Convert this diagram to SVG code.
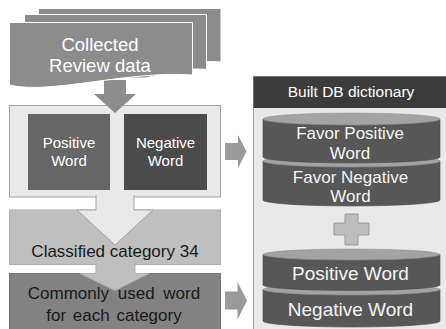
<svg xmlns="http://www.w3.org/2000/svg" width="446" height="329" viewBox="0 0 446 329">
<style>
text{font-family:"Liberation Sans",Arial,sans-serif;text-anchor:middle}
.doc{fill:#8c8c8c;stroke:#ffffff;stroke-width:1}
.wt{fill:#ffffff}
.dk{fill:#1a1a1a}
.cylb{fill:#575757;stroke:#4a4a4a;stroke-width:0.6}
.cylt{fill:#a3a3a3;stroke:#8e8e8e;stroke-width:0.6}
.ct{fill:#f4f4f4;font-size:17px}
.ct2{fill:#f4f4f4;font-size:19px}
.garrow{fill:#9a9a9a}
</style>
<rect width="446" height="329" fill="#ffffff"/>

<g id="panel-light">
<rect x="9.5" y="105.5" width="211" height="91.5" fill="#e9e9e9" stroke="#a3a3a3"/>
</g>

<g id="connectors">
<path d="M104,80 V94 H94 L115,113 L136,94 H126 V80 Z" fill="#8c8c8c"/>
</g>

<g id="review-data">
<path class="doc" d="M38.5,8.5 H221 V62 C200,60 180,66 160,70 L38.5,70 Z"/>
<path class="doc" d="M24.5,14.5 H206.5 V69.5 C185,67 165,74 145,78 L24.5,78 Z"/>
<path class="doc" d="M9.5,22.5 H192.5 V75 C130,70 50,95 9.5,85 Z"/>
<text class="wt" x="100" y="51" font-size="18.5">Collected</text>
<text class="wt" x="100" y="72" font-size="18.5">Review data</text>
</g>

<g id="positive-word">
<rect x="28" y="114" width="82" height="76" fill="#666666"/>
<text class="wt" x="69" y="148" font-size="15">Positive</text>
<text class="wt" x="69" y="166" font-size="15">Word</text>
</g>
<g id="negative-word">
<rect x="124" y="114" width="83" height="76" fill="#4b4b4b"/>
<text class="wt" x="165.5" y="148" font-size="15">Negative</text>
<text class="wt" x="165.5" y="166" font-size="15">Word</text>
</g>

<g id="classified">
<rect x="9.5" y="210" width="211" height="54.5" fill="#bfbfbf" stroke="#adadad"/>
</g>
<g id="commonly">
<rect x="9.5" y="273.5" width="211" height="60" fill="#828282" stroke="#777777"/>
</g>

<g id="connectors2">
<path d="M96,195 V210 H77 L115,245 L153,210 H134 V195" fill="#e9e9e9" stroke="#a3a3a3"/>
<path d="M96,263 V273.5 H80 L115,290.5 L149,273.5 H135 V263" fill="#bfbfbf" stroke="#adadad"/>
<path class="garrow" d="M225,143 H238 V135 L246.5,151.5 L238,168 V160 H225 Z"/>
<path class="garrow" d="M225,291.5 H237.5 V282 L247,300.5 L237.5,319.5 V309.5 H225 Z"/>
</g>

<g id="classified-label">
<text class="dk" x="115" y="257" font-size="17">Classified category 34</text>
</g>
<g id="commonly-label">
<text class="dk" x="114" y="299" font-size="17" word-spacing="4">Commonly used word</text>
<text class="dk" x="114" y="321" font-size="17" word-spacing="2">for each category</text>
</g>

<g id="db-dictionary">
<rect x="253.5" y="76.5" width="200" height="260" fill="#e9e9e9" stroke="#a3a3a3"/>
<rect x="253.5" y="76.5" width="200" height="31.5" fill="#3b3b3b"/>
<text class="wt" x="351" y="97" font-size="15.5">Built DB dictionary</text>
</g>

<g id="favor-negative">
<path class="cylb" d="M263,161 V200 A88.5,6 0 0 0 440,200 V161 Z"/>
<ellipse class="cylt" cx="351.5" cy="161" rx="88.5" ry="6"/>
<text class="ct" x="350.5" y="182.5">Favor Negative</text>
<text class="ct" x="350.5" y="202">Word</text>
</g>
<g id="favor-positive">
<path class="cylb" d="M263,119 V157 A88.5,6 0 0 0 440,157 V119 Z"/>
<ellipse class="cylt" cx="351.5" cy="119" rx="88.5" ry="6"/>
<text class="ct" x="350" y="139">Favor Positive</text>
<text class="ct" x="350" y="158.5">Word</text>
</g>

<g id="plus">
<path d="M345,214 H358 V223 H369 V235 H358 V245 H345 V235 H334 V223 H345 Z" fill="#bdbdbd" stroke="#9a9a9a"/>
</g>

<g id="negative-db">
<path class="cylb" d="M263,289.5 V321 A88.5,6 0 0 0 440,321 V289.5 Z"/>
<ellipse class="cylt" cx="351.5" cy="289.5" rx="88.5" ry="5.5"/>
<text class="ct2" x="350.5" y="316">Negative Word</text>
</g>
<g id="positive-db">
<path class="cylb" d="M263,254.5 V285 A88.5,5.5 0 0 0 440,285 V254.5 Z"/>
<ellipse class="cylt" cx="351.5" cy="254.5" rx="88.5" ry="5.5"/>
<text class="ct2" x="350.5" y="280">Positive Word</text>
</g>
</svg>
